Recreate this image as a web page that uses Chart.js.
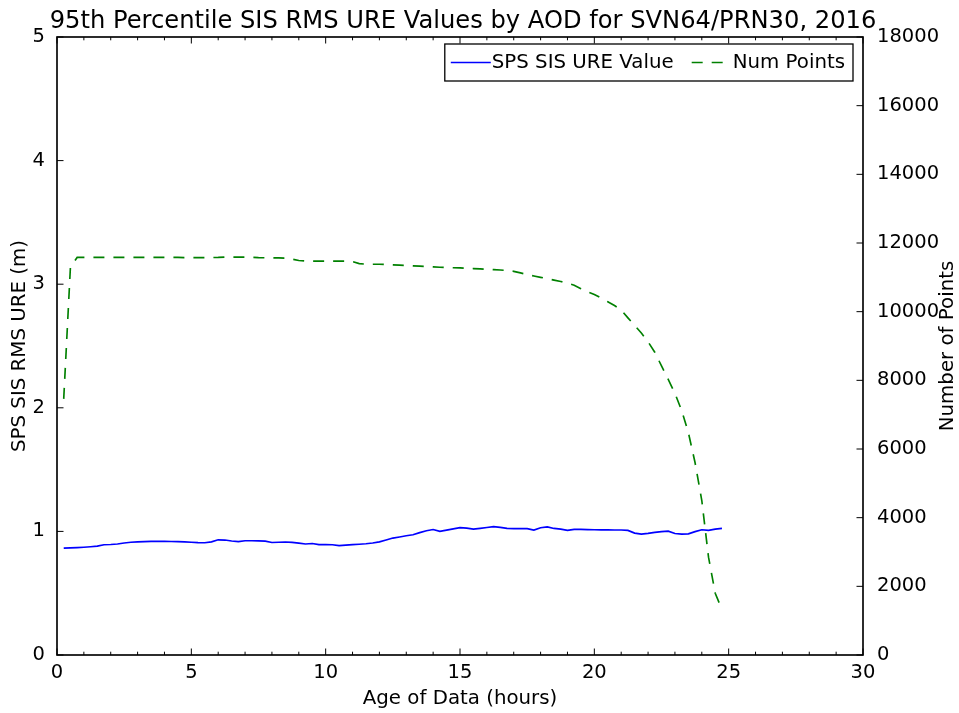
<!DOCTYPE html>
<html lang="en">
<head>
<meta charset="UTF-8">
<title>95th Percentile SIS RMS URE Values by AOD</title>
<script src="https://cdn.jsdelivr.net/npm/chart.js"></script>
<style>
  html, body { margin: 0; padding: 0; background: #fff; }
  canvas { display: block; }
</style>
</head>
<body>
<canvas id="aodChart" width="959" height="713"></canvas>
<script>
const chartTitle = '95th Percentile SIS RMS URE Values by AOD for SVN64/PRN30, 2016';

// age of data, hours
const hours = [
  0.25, 0.5, 0.75, 1, 1.25, 1.5, 1.75, 2,
  2.25, 2.5, 2.75, 3, 3.25, 3.5, 3.75, 4,
  4.25, 4.5, 4.75, 5, 5.25, 5.5, 5.75, 6,
  6.25, 6.5, 6.75, 7, 7.25, 7.5, 7.75, 8,
  8.25, 8.5, 8.75, 9, 9.25, 9.5, 9.75, 10,
  10.25, 10.5, 10.75, 11, 11.25, 11.5, 11.75, 12,
  12.25, 12.5, 12.75, 13, 13.25, 13.5, 13.75, 14,
  14.25, 14.5, 14.75, 15, 15.25, 15.5, 15.75, 16,
  16.25, 16.5, 16.75, 17, 17.25, 17.5, 17.75, 18,
  18.25, 18.5, 18.75, 19, 19.25, 19.5, 19.75, 20,
  20.25, 20.5, 20.75, 21, 21.25, 21.5, 21.75, 22,
  22.25, 22.5, 22.75, 23, 23.25, 23.5, 23.75, 24,
  24.25, 24.5, 24.75
];

// SPS SIS URE value (m)
const ureValues = [
  0.865, 0.867, 0.869, 0.872, 0.876, 0.881, 0.892, 0.894,
  0.898, 0.906, 0.912, 0.915, 0.917, 0.919, 0.919, 0.919,
  0.918, 0.917, 0.915, 0.912, 0.909, 0.908, 0.915, 0.932,
  0.930, 0.922, 0.917, 0.924, 0.924, 0.923, 0.921, 0.910,
  0.912, 0.914, 0.911, 0.905, 0.898, 0.902, 0.893, 0.893,
  0.892, 0.885, 0.889, 0.893, 0.896, 0.900, 0.906, 0.915,
  0.930, 0.946, 0.955, 0.965, 0.973, 0.990, 1.005, 1.015,
  1.000, 1.010, 1.020, 1.030, 1.027, 1.019, 1.025, 1.032,
  1.038, 1.032, 1.025, 1.023, 1.022, 1.022, 1.011, 1.030,
  1.036, 1.024, 1.018, 1.008, 1.016, 1.016, 1.014, 1.013,
  1.012, 1.012, 1.011, 1.011, 1.008, 0.986, 0.978, 0.984,
  0.992, 0.998, 1.002, 0.983, 0.978, 0.980, 0.998, 1.013,
  1.008, 1.018, 1.024
];

// number of points
const numPoints = [
  7460, 11300, 11580, 11580, 11580, 11580, 11580, 11580,
  11580, 11580, 11580, 11580, 11580, 11580, 11580, 11580,
  11580, 11580, 11575, 11575, 11575, 11575, 11575, 11580,
  11590, 11590, 11590, 11590, 11585, 11575, 11570, 11570,
  11565, 11560, 11530, 11490, 11475, 11470, 11470, 11470,
  11470, 11470, 11470, 11460, 11400, 11385, 11380, 11380,
  11375, 11365, 11355, 11345, 11335, 11325, 11315, 11305,
  11295, 11285, 11280, 11275, 11265, 11255, 11245, 11235,
  11225, 11215, 11200, 11175, 11130, 11080, 11040, 11000,
  10960, 10920, 10880, 10830, 10770, 10670, 10580, 10500,
  10400, 10290, 10180, 10050, 9820, 9600, 9380, 9120,
  8820, 8420, 8030, 7620, 7120, 6480, 5600, 4500,
  2850, 1800, 1320
];

const xTicks = [0, 5, 10, 15, 20, 25, 30];
const xMinorTicks = [1, 2, 3, 4, 6, 7, 8, 9, 11, 12, 13, 14, 16, 17, 18, 19, 21, 22, 23, 24, 26, 27, 28, 29];
const ureTicks = [0, 1, 2, 3, 4, 5];
const pointTicks = [0, 2000, 4000, 6000, 8000, 10000, 12000, 14000, 16000, 18000];

const fonte = "'DejaVu Sans', sans-serif";

// matplotlib style: frame, inward ticks, title, legend box, right axis title
const moldura = {
  id: 'moldura',
  afterDraw(chart) {
    const ctx = chart.ctx;
    const a = chart.chartArea;
    const sx = chart.scales.x, sy = chart.scales.y, sy1 = chart.scales.y1;
    ctx.save();

    ctx.strokeStyle = '#000';
    ctx.lineWidth = 1;
    ctx.beginPath();
    xTicks.forEach(v => {
      const px = sx.getPixelForValue(v);
      ctx.moveTo(px, a.bottom); ctx.lineTo(px, a.bottom - 6.5);
      ctx.moveTo(px, a.top); ctx.lineTo(px, a.top + 6.5);
    });
    xMinorTicks.forEach(v => {
      const px = sx.getPixelForValue(v);
      ctx.moveTo(px, a.bottom); ctx.lineTo(px, a.bottom - 3.3);
      ctx.moveTo(px, a.top); ctx.lineTo(px, a.top + 3.3);
    });
    ureTicks.forEach(v => {
      const py = sy.getPixelForValue(v);
      ctx.moveTo(a.left, py); ctx.lineTo(a.left + 6.5, py);
    });
    pointTicks.forEach(v => {
      const py = sy1.getPixelForValue(v);
      ctx.moveTo(a.right, py); ctx.lineTo(a.right - 6.5, py);
    });
    ctx.stroke();

    ctx.lineWidth = 1.65;
    ctx.strokeRect(a.left, a.top, a.right - a.left, a.bottom - a.top);

    // titulo
    ctx.fillStyle = '#000';
    ctx.font = '24.2px ' + fonte;
    ctx.textAlign = 'center';
    ctx.textBaseline = 'alphabetic';
    ctx.fillText(chartTitle, (a.left + a.right) / 2 + 3, 28);

    // eixo direito, lido de baixo para cima
    ctx.save();
    ctx.font = '19.8px ' + fonte;
    ctx.translate(953, (a.top + a.bottom) / 2);
    ctx.rotate(-Math.PI / 2);
    ctx.fillText('Number of Points', 0, 0);
    ctx.restore();

    // legenda
    ctx.font = '19.8px ' + fonte;
    const itens = chart.data.datasets.map(ds => ({
      texto: ds.label, cor: ds.borderColor, dash: ds.borderDash || []
    }));
    const handle = 40, gapTexto = 1, gapItem = 18, padL = 6, padR = 8;
    let largura = padL + padR;
    itens.forEach((it, i) => {
      it.w = ctx.measureText(it.texto).width;
      largura += handle + gapTexto + it.w + (i ? gapItem : 0);
    });
    const bx = a.right - 10 - largura, by = a.top + 7, bh = 37;
    ctx.fillStyle = '#fff';
    ctx.fillRect(bx, by, largura, bh);
    ctx.lineWidth = 1.3;
    ctx.strokeStyle = '#000';
    ctx.strokeRect(bx, by, largura, bh);
    let x = bx + padL;
    const cy = by + bh / 2;
    itens.forEach(it => {
      ctx.beginPath();
      ctx.setLineDash(it.dash);
      ctx.strokeStyle = it.cor;
      ctx.lineWidth = 1.65;
      ctx.moveTo(x, cy); ctx.lineTo(x + handle, cy);
      ctx.stroke();
      ctx.setLineDash([]);
      ctx.fillStyle = '#000';
      ctx.textAlign = 'left';
      ctx.textBaseline = 'middle';
      ctx.fillText(it.texto, x + handle + gapTexto, cy);
      x += handle + gapTexto + it.w + gapItem;
    });

    ctx.restore();
  }
};

const ctx1 = document.getElementById('aodChart');

new Chart(ctx1, {
  type: 'line',
  data: {
    datasets: [
      {
        label: 'SPS SIS URE Value',
        data: hours.map((h, i) => ({ x: h, y: ureValues[i] })),
        borderColor: '#0000ff',
        borderWidth: 1.65,
        pointRadius: 0,
        fill: false,
        tension: 0,
        yAxisID: 'y'
      },
      {
        label: 'Num Points',
        data: hours.map((h, i) => ({ x: h, y: numPoints[i] })),
        borderColor: '#008000',
        borderWidth: 1.65,
        borderDash: [11, 9],
        pointRadius: 0,
        fill: false,
        tension: 0,
        yAxisID: 'y1'
      }
    ]
  },
  options: {
    responsive: false,
    devicePixelRatio: 1,
    animation: false,
    layout: { padding: { top: 37, left: 0, right: 0, bottom: 0 } },
    plugins: {
      legend: { display: false },
      title: { display: false },
      tooltip: { enabled: false }
    },
    scales: {
      x: {
        type: 'linear',
        min: 0,
        max: 30,
        afterBuildTicks: s => { s.ticks = xTicks.map(v => ({ value: v })); },
        afterFit: s => { s.height = 58; },
        grid: { display: false },
        border: { display: false },
        ticks: { color: '#000', padding: -2, maxRotation: 0, font: { family: fonte, size: 19.5 } },
        title: {
          display: true,
          text: 'Age of Data (hours)',
          color: '#000',
          padding: { top: 0, bottom: 2 },
          font: { family: fonte, size: 19.8 }
        }
      },
      y: {
        type: 'linear',
        position: 'left',
        min: 0,
        max: 5,
        afterBuildTicks: s => { s.ticks = ureTicks.map(v => ({ value: v })); },
        afterFit: s => { s.width = 57; },
        grid: { display: false },
        border: { display: false },
        ticks: { color: '#000', padding: 4, font: { family: fonte, size: 19.5 } },
        title: {
          display: true,
          text: 'SPS SIS RMS URE (m)',
          color: '#000',
          padding: { top: 8, bottom: 0 },
          font: { family: fonte, size: 19.8 }
        }
      },
      y1: {
        type: 'linear',
        position: 'right',
        min: 0,
        max: 18000,
        afterBuildTicks: s => { s.ticks = pointTicks.map(v => ({ value: v })); },
        afterFit: s => { s.width = 96; },
        grid: { display: false },
        border: { display: false },
        ticks: {
          color: '#000',
          padding: 6,
          font: { family: fonte, size: 19.5 },
          callback: v => String(v)
        }
      }
    }
  },
  plugins: [moldura]
});
</script>
</body>
</html>
